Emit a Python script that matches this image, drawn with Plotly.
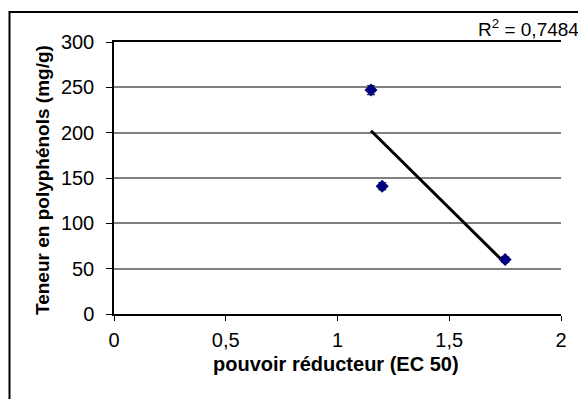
import numpy as np
import plotly.graph_objects as go

ec50 = [1.15, 1.2, 1.75]
polyphenols = [247, 141, 60]
errors = [5, 4, 3]
x_ticks = [0, 0.5, 1, 1.5, 2]
x_tick_labels = ["0", "0,5", "1", "1,5", "2"]
y_ticks = [0, 50, 100, 150, 200, 250, 300]
r2_label = "R<sup>2</sup> = 0,7484"
x_title = "<b>pouvoir réducteur (EC 50)</b>"
y_title = "<b>Teneur en polyphénols (mg/g)</b>"

slope, intercept = np.polyfit(ec50, polyphenols, 1)
trend_x = [min(ec50), max(ec50)]
trend_y = [slope * v + intercept for v in trend_x]

FONT = "Liberation Sans, Arial, sans-serif"

# page has an 8px body margin, so figure coordinates are offset by 8px
OFF = 8
L, T, PW, PH = 114 - OFF, 42 - OFF, 447, 272
W, H = 586 - OFF, 399 - OFF

fig = go.Figure()
fig.add_trace(go.Scatter(
    x=trend_x, y=trend_y, mode="lines",
    line=dict(color="black", width=3), showlegend=False, hoverinfo="skip"))
fig.add_trace(go.Scatter(
    x=ec50, y=polyphenols, mode="markers",
    marker=dict(symbol="diamond", size=10, color="#000080"),
    error_y=dict(type="data", array=errors, visible=True, color="#333333",
                 thickness=1.2, width=4),
    showlegend=False))

fig.update_layout(
    width=W, height=H,
    margin=dict(l=L, r=W - L - PW, t=T, b=H - T - PH, autoexpand=False),
    paper_bgcolor="white", plot_bgcolor="white",
    font=dict(family=FONT, size=20, color="black"),
    xaxis=dict(
        range=[0, 2], tickvals=x_ticks, ticktext=x_tick_labels,
        showgrid=False, zeroline=False, showline=True, linecolor="black",
        linewidth=1.5, mirror=True, ticks="outside", ticklen=5, tickcolor="black",
        tickfont=dict(size=20), ticklabelstandoff=2),
    yaxis=dict(
        range=[0, 300], tickvals=y_ticks,
        showgrid=True, gridcolor="#808080", gridwidth=1.5, zeroline=False,
        showline=True, linecolor="black", linewidth=1.5,
        ticks="outside", ticklen=6, tickcolor="black",
        tickfont=dict(size=20), ticklabelstandoff=8),
    shapes=[dict(type="rect", xref="paper", yref="paper",
                 x0=(9.5 - 114) / PW, x1=(600 - 114) / PW,
                 y0=(314 - 410) / PH, y1=(314 - 12) / PH,
                 line=dict(color="black", width=2), layer="below")],
    annotations=[
        dict(text=r2_label, xref="paper", yref="paper",
             x=(581 - 114) / PW, y=(314 - 28) / PH,
             xanchor="right", yanchor="middle", showarrow=False,
             font=dict(size=19)),
        dict(text=x_title, xref="paper", yref="paper",
             x=(336 - 114) / PW, y=(314 - 364) / PH,
             xanchor="center", yanchor="middle", showarrow=False,
             font=dict(size=20)),
        dict(text=y_title, xref="paper", yref="paper", textangle=-90,
             x=(42 - 114) / PW, y=(314 - 180) / PH,
             xanchor="center", yanchor="middle", showarrow=False,
             font=dict(size=19)),
    ],
)

fig.write_html("out.html")
